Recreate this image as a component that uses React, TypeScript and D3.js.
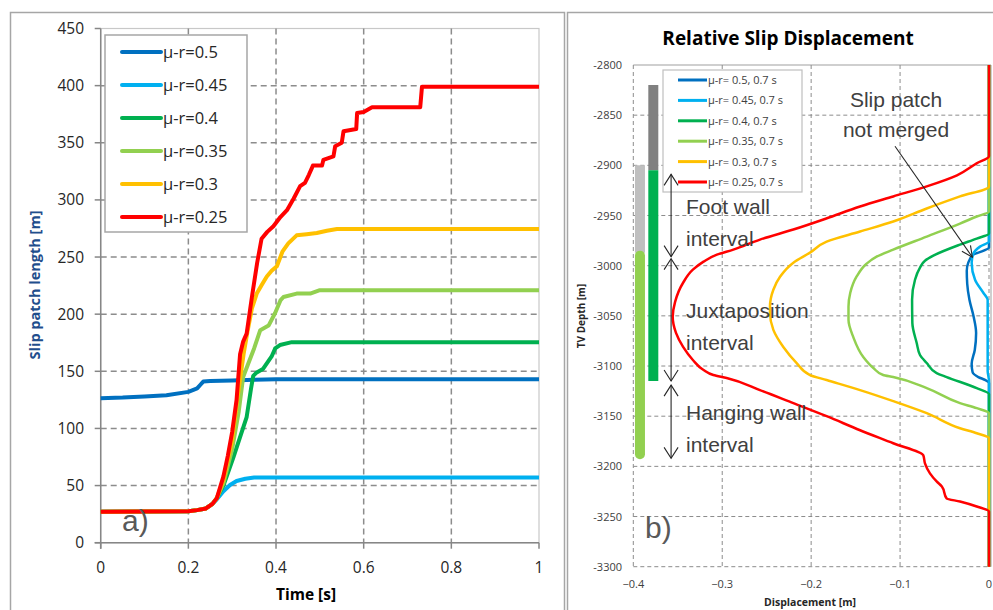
import React from "react";
import * as d3 from "d3";

type P = [number, number];

// ---------- Panel a data ----------
const timeTicks = [0, 0.2, 0.4, 0.6, 0.8, 1];
const lengthTicks = [0, 50, 100, 150, 200, 250, 300, 350, 400, 450];
const seriesNamesA = ["μ-r=0.5", "μ-r=0.45", "μ-r=0.4", "μ-r=0.35", "μ-r=0.3", "μ-r=0.25"];

const lenMu050: P[] = [[0, 126.5], [0.05, 127], [0.1, 128], [0.15, 129], [0.2, 132], [0.22, 135], [0.227, 138], [0.234, 141], [0.25, 141.5], [0.3, 142], [0.35, 142.5], [0.4, 143], [1, 143]];
const lenMu045: P[] = [[0, 27], [0.2, 27.5], [0.22, 28.5], [0.24, 30], [0.255, 34], [0.265, 38], [0.28, 45], [0.295, 50.5], [0.31, 54], [0.33, 56], [0.35, 57], [1, 57]];
const lenMu040: P[] = [[0, 27], [0.2, 27.5], [0.22, 28.5], [0.24, 30], [0.255, 34], [0.265, 39], [0.28, 50], [0.303, 75], [0.333, 110], [0.343, 135], [0.348, 146], [0.356, 149], [0.37, 152], [0.379, 157], [0.39, 163], [0.398, 170], [0.409, 173], [0.436, 175.5], [1, 175.5]];
const lenMu035: P[] = [[0, 27], [0.2, 27.5], [0.22, 28.5], [0.24, 30], [0.255, 34], [0.265, 39], [0.28, 52], [0.3, 82], [0.315, 115], [0.325, 145], [0.337, 157], [0.35, 170], [0.364, 186], [0.383, 190], [0.398, 201], [0.41, 212], [0.417, 215], [0.447, 218], [0.478, 218], [0.5, 221], [1, 221]];
const lenMu030: P[] = [[0, 27], [0.2, 27.5], [0.22, 28.5], [0.24, 30], [0.255, 34], [0.265, 39], [0.28, 55], [0.3, 90], [0.315, 135], [0.326, 165], [0.335, 185], [0.345, 205], [0.356, 218], [0.368, 226], [0.379, 233], [0.39, 238], [0.402, 242], [0.415, 255], [0.428, 262], [0.447, 269], [0.47, 270], [0.493, 271], [0.516, 273], [0.539, 274.5], [1, 274.5]];
const lenMu025: P[] = [[0, 27], [0.2, 27.5], [0.22, 28.5], [0.24, 30], [0.255, 34], [0.265, 39], [0.28, 58], [0.29, 76], [0.3, 97], [0.31, 125], [0.318, 165], [0.325, 176], [0.333, 183], [0.345, 215], [0.357, 245], [0.367, 266], [0.38, 272], [0.394, 277], [0.41, 285], [0.425, 291], [0.44, 301], [0.455, 312], [0.466, 315], [0.475, 322], [0.482, 328], [0.484, 330], [0.505, 330], [0.508, 335], [0.531, 338], [0.535, 347], [0.55, 350], [0.554, 360], [0.583, 362], [0.585, 376], [0.6, 377], [0.619, 381], [0.729, 381], [0.733, 399], [1, 399]];

// ---------- Panel b data ----------
const dispTicks = [-0.4, -0.3, -0.2, -0.1, 0];
const depthTicks = [-2800, -2850, -2900, -2950, -3000, -3050, -3100, -3150, -3200, -3250, -3300];
const seriesNamesB = ["μ-r= 0.5, 0.7 s", "μ-r= 0.45, 0.7 s", "μ-r= 0.4, 0.7 s", "μ-r= 0.35, 0.7 s", "μ-r= 0.3, 0.7 s", "μ-r= 0.25, 0.7 s"];

const slipMu050: P[] = [[0, -2800], [0, -2982], [-0.006, -2985], [-0.0176, -2989], [-0.0233, -2997], [-0.025, -3005], [-0.0245, -3018], [-0.022, -3034], [-0.0175, -3050], [-0.0145, -3067], [-0.016, -3084], [-0.0195, -3098], [-0.0185, -3106], [-0.012, -3111], [-0.004, -3114], [0, -3117], [0, -3300]];
const slipMu045: P[] = [[0, -2800], [0, -2976], [-0.0101, -2981], [-0.0176, -2988], [-0.0195, -2997], [-0.0157, -3014], [-0.0064, -3027], [-0.0015, -3034], [-0.0015, -3105], [0, -3115], [0, -3300]];
const slipMu040: P[] = [[0, -2800], [0, -2968], [-0.0138, -2973], [-0.0326, -2979], [-0.0626, -2990], [-0.072, -2995], [-0.0776, -3002], [-0.0832, -3014], [-0.0865, -3034], [-0.0862, -3057], [-0.0813, -3077], [-0.0776, -3089], [-0.07, -3097], [-0.0589, -3107], [-0.0476, -3111], [-0.0138, -3122], [0, -3128], [0, -3300]];
const slipMu035: P[] = [[0, -2800], [0, -2946], [-0.0138, -2951], [-0.0326, -2958], [-0.07, -2971], [-0.1077, -2984], [-0.1264, -2991], [-0.1377, -2998], [-0.149, -3011], [-0.156, -3027], [-0.158, -3041], [-0.158, -3054], [-0.1527, -3071], [-0.1414, -3091], [-0.13, -3102], [-0.119, -3109], [-0.1077, -3111], [-0.07, -3122], [-0.0326, -3137], [-0.0138, -3142], [0, -3147], [0, -3300]];
const slipMu030: P[] = [[0, -2800], [0, -2921], [-0.0326, -2931], [-0.07, -2943], [-0.1077, -2956], [-0.145, -2966], [-0.1826, -2976], [-0.2013, -2987], [-0.22, -2997], [-0.235, -3011], [-0.2425, -3024], [-0.2463, -3041], [-0.2463, -3047], [-0.2425, -3064], [-0.2313, -3081], [-0.2163, -3097], [-0.2013, -3109], [-0.1826, -3114], [-0.145, -3124], [-0.1077, -3135], [-0.07, -3147], [-0.0326, -3162], [-0.0138, -3167], [0, -3172], [0, -3300]];
const slipMu025: P[] = [[0, -2800], [0, -2891], [-0.0139, -2898], [-0.036, -2910], [-0.07, -2921], [-0.1077, -2931], [-0.145, -2941], [-0.183, -2953], [-0.22, -2964], [-0.2575, -2974], [-0.2875, -2984], [-0.306, -2989], [-0.321, -2996], [-0.333, -3004], [-0.344, -3017], [-0.353, -3036], [-0.3557, -3051], [-0.352, -3067], [-0.344, -3081], [-0.333, -3094], [-0.321, -3104], [-0.31, -3109], [-0.295, -3112], [-0.2576, -3124], [-0.22, -3137], [-0.1826, -3150], [-0.145, -3164], [-0.1077, -3177], [-0.0739, -3189], [-0.072, -3197], [-0.0664, -3207], [-0.0589, -3215], [-0.053, -3220], [-0.0476, -3232], [-0.0326, -3235], [-0.0138, -3240], [0, -3245], [0, -3300]];

// depth intervals of the wells: [displacement position, top, bottom]
const wellLightGrey: [number, number, number] = [-0.3925, -2900, -2987];
const wellLightGreen: [number, number, number] = [-0.3925, -2990, -3188];
const wellDarkGrey: [number, number, number] = [-0.3775, -2820, -2905];
const wellDarkGreen: [number, number, number] = [-0.3775, -2905, -3115];
// interval arrows: [position, top, bottom]
const intervalArrows: [number, number, number][] = [[-0.3575, -2909, -2991], [-0.3575, -2993, -3115], [-0.3575, -3119, -3192]];
const intervalLabels = [["Foot wall", "interval"], ["Juxtaposition", "interval"], ["Hanging wall", "interval"]];
const mergeArrow: [P, P] = [[-0.1057, -2881], [-0.0187, -2991.5]];

const colors = ["#0070C0", "#00B0F0", "#00B050", "#92D050", "#FFC000", "#FF0000"];
const seriesA = [lenMu050, lenMu045, lenMu040, lenMu035, lenMu030, lenMu025];
const seriesB = [slipMu050, slipMu045, slipMu040, slipMu035, slipMu030, slipMu025];

const TICK_FONT = "'Open Sans', sans-serif";
const ANN_FONT = "'Liberation Sans', Arial, sans-serif";

function vArrowHead(x: number, y: number, dir: number) {
  // dir = -1 tip up, +1 tip down
  return `M${x - 7},${y - dir * 11}L${x},${y}L${x + 7},${y - dir * 11}`;
}

export default function App() {
  const xA = d3.scaleLinear().domain([0, 1]).range([100.7, 539]);
  const yA = d3.scaleLinear().domain([0, 450]).range([542.7, 28.5]);
  const xB = d3.scaleLinear().domain([-0.4, 0]).range([633.3, 989]);
  const yB = d3.scaleLinear().domain([-3300, -2800]).range([566.7, 65]);

  const lineA = d3.line<P>().x((d) => xA(d[0])).y((d) => yA(d[1]));
  const lineB = d3.line<P>().x((d) => xB(d[0])).y((d) => yB(d[1])).curve(d3.curveMonotoneY);

  const fmtT = (v: number) => (v === 0 ? "0" : v === 1 ? "1" : d3.format(".1f")(v));
  const fmtD = (v: number) => (v === 0 ? "0" : d3.format(".1f")(v));

  // merge arrow geometry
  const mx0 = xB(mergeArrow[0][0]), my0 = yB(mergeArrow[0][1]);
  const mx1 = xB(mergeArrow[1][0]), my1 = yB(mergeArrow[1][1]);
  const ang = Math.atan2(my1 - my0, mx1 - mx0);
  const hl = 12, hw = 0.45;
  const head = `M${mx1 - hl * Math.cos(ang - hw)},${my1 - hl * Math.sin(ang - hw)}L${mx1},${my1}L${mx1 - hl * Math.cos(ang + hw)},${my1 - hl * Math.sin(ang + hw)}`;

  return (
    <svg width={993} height={610} style={{ position: "absolute", left: 0, top: 0, background: "#fff" }}>
      <rect x={0} y={0} width={993} height={610} fill="#fff" />
      {/* ================= Panel a ================= */}
      <rect x={10.5} y={12.5} width={554} height={640} fill="#fff" stroke="#a6a6a6" strokeWidth={1.5} />
      <rect x={xA(0)} y={yA(450)} width={xA(1) - xA(0)} height={yA(0) - yA(450)} fill="none" stroke="#c8c8c8" strokeWidth={1.2} />
      {lengthTicks.filter((v) => v > 0 && v < 450).map((v) => (
        <line key={"ha" + v} x1={xA(0)} x2={xA(1)} y1={yA(v)} y2={yA(v)} stroke="#8c8c8c" strokeWidth={1.5} strokeDasharray="6,4" />
      ))}
      {timeTicks.filter((v) => v > 0 && v < 1).map((v) => (
        <line key={"va" + v} x1={xA(v)} x2={xA(v)} y1={yA(450)} y2={yA(0)} stroke="#8c8c8c" strokeWidth={1.5} strokeDasharray="6,4" />
      ))}
      <line x1={xA(0)} x2={xA(0)} y1={yA(450)} y2={yA(0) + 6} stroke="#868686" strokeWidth={1.5} />
      <line x1={xA(0) - 6} x2={xA(1)} y1={yA(0)} y2={yA(0)} stroke="#868686" strokeWidth={1.5} />
      {lengthTicks.map((v) => (
        <g key={"ya" + v}>
          <line x1={xA(0) - 6} x2={xA(0)} y1={yA(v)} y2={yA(v)} stroke="#868686" strokeWidth={1.5} />
          <text x={84} y={yA(v) + 5.5} textAnchor="end" fontFamily={TICK_FONT} fontSize={15.5} fill="#262626">{v}</text>
        </g>
      ))}
      {timeTicks.map((v) => (
        <g key={"xa" + v}>
          <line x1={xA(v)} x2={xA(v)} y1={yA(0)} y2={yA(0) + 6} stroke="#868686" strokeWidth={1.5} />
          <text x={xA(v)} y={573} textAnchor="middle" fontFamily={TICK_FONT} fontSize={15.5} fill="#262626">{fmtT(v)}</text>
        </g>
      ))}
      <text x={306} y={600} textAnchor="middle" fontFamily={TICK_FONT} fontWeight="bold" fontSize={15.5} fill="#000">Time [s]</text>
      <text transform="translate(40,285) rotate(-90)" textAnchor="middle" fontFamily={TICK_FONT} fontWeight="bold" fontSize={14.5} fill="#1F4E8C">Slip patch length [m]</text>
      {seriesA.map((s, i) => (
        <path key={"sa" + i} d={lineA(s) || ""} fill="none" stroke={colors[i]} strokeWidth={4} strokeLinejoin="round" />
      ))}
      <rect x={105} y={35} width={142} height={197} fill="#fff" stroke="#a6a6a6" strokeWidth={1.5} />
      {seriesNamesA.map((n, i) => (
        <g key={"la" + i}>
          <line x1={122} x2={161} y1={52 + i * 33} y2={52 + i * 33} stroke={colors[i]} strokeWidth={4} strokeLinecap="round" />
          <text x={163} y={52 + i * 33 + 5.5} fontFamily={TICK_FONT} fontSize={16.5} fill="#262626">{n}</text>
        </g>
      ))}
      <text x={122} y={531} fontFamily={ANN_FONT} fontSize={30} fill="#595959">a)</text>

      {/* ================= Panel b ================= */}
      <rect x={567.5} y={12.5} width={500} height={640} fill="#fff" stroke="#a6a6a6" strokeWidth={1.5} />
      <text x={788} y={45} textAnchor="middle" fontFamily={TICK_FONT} fontWeight="bold" fontSize={19} fill="#000">Relative Slip Displacement</text>
      <line x1={xB(-0.4)} x2={xB(0) + 2} y1={yB(-2800)} y2={yB(-2800)} stroke="#bfbfbf" strokeWidth={1.5} />
      <line x1={xB(0) + 2} x2={xB(0) + 2} y1={yB(-2800)} y2={yB(-3300)} stroke="#bfbfbf" strokeWidth={1.5} />
      {depthTicks.filter((v) => v !== -2800).map((v) => (
        <line key={"hb" + v} x1={xB(-0.4)} x2={xB(0)} y1={yB(v)} y2={yB(v)} stroke="#8c8c8c" strokeWidth={1} strokeDasharray="4,3" />
      ))}
      {dispTicks.map((v) => (
        <line key={"vb" + v} x1={xB(v)} x2={xB(v)} y1={yB(-2800)} y2={yB(-3300)} stroke="#8c8c8c" strokeWidth={1} strokeDasharray="4,3" />
      ))}
      {depthTicks.map((v) => (
        <text key={"yb" + v} x={622} y={yB(v) + 4} textAnchor="end" fontFamily={TICK_FONT} fontSize={11} fill="#404040">{v}</text>
      ))}
      {dispTicks.map((v) => (
        <text key={"xb" + v} x={xB(v)} y={588} textAnchor="middle" fontFamily={TICK_FONT} fontSize={11} fill="#404040">{fmtD(v)}</text>
      ))}
      <text x={810} y={606} textAnchor="middle" fontFamily={TICK_FONT} fontWeight="bold" fontSize={10.5} fill="#262626">Displacement [m]</text>
      <text transform="translate(585,316) rotate(-90)" textAnchor="middle" fontFamily={TICK_FONT} fontWeight="bold" fontSize={10} fill="#262626">TV Depth [m]</text>

      {/* wells */}
      <line x1={xB(wellLightGrey[0])} x2={xB(wellLightGrey[0])} y1={yB(wellLightGrey[1])} y2={yB(wellLightGrey[2])} stroke="#bfbfbf" strokeWidth={10} />
      <line x1={xB(wellLightGreen[0])} x2={xB(wellLightGreen[0])} y1={yB(wellLightGreen[1])} y2={yB(wellLightGreen[2])} stroke="#92D050" strokeWidth={10} strokeLinecap="round" />
      <line x1={xB(wellDarkGrey[0])} x2={xB(wellDarkGrey[0])} y1={yB(wellDarkGrey[1])} y2={yB(wellDarkGrey[2])} stroke="#808080" strokeWidth={10} />
      <line x1={xB(wellDarkGreen[0])} x2={xB(wellDarkGreen[0])} y1={yB(wellDarkGreen[1])} y2={yB(wellDarkGreen[2])} stroke="#00B050" strokeWidth={10} />

      {seriesB.map((s, i) => (
        <path key={"sb" + i} d={lineB(s) || ""} fill="none" stroke={colors[i]} strokeWidth={2.5} strokeLinejoin="round" />
      ))}

      {/* legend b */}
      <rect x={663} y={70} width={139} height={122} fill="#fff" stroke="#bfbfbf" strokeWidth={1.2} />
      {seriesNamesB.map((n, i) => (
        <g key={"lb" + i}>
          <line x1={678} x2={707} y1={80 + i * 20.4} y2={80 + i * 20.4} stroke={colors[i]} strokeWidth={3} />
          <text x={708} y={80 + i * 20.4 + 4} fontFamily={TICK_FONT} fontSize={11} fill="#404040">{n}</text>
        </g>
      ))}

      {/* interval arrows */}
      {intervalArrows.map((a, i) => {
        const x = xB(a[0]);
        const y1 = yB(a[1]);
        const y2 = yB(a[2]);
        return (
          <g key={"ia" + i} fill="none" stroke="#262626" strokeWidth={1.1}>
            <line x1={x} x2={x} y1={y1} y2={y2} />
            <path d={vArrowHead(x, y1, -1)} />
            <path d={vArrowHead(x, y2, 1)} />
          </g>
        );
      })}
      {intervalLabels.map((lab, i) => {
        const mid = (intervalArrows[i][1] + intervalArrows[i][2]) / 2;
        const y = yB(mid);
        return (
          <g key={"il" + i} fontFamily={ANN_FONT} fontSize={21} fill="#404040">
            <text x={686} y={y - 2}>{lab[0]}</text>
            <text x={686} y={y + 30}>{lab[1]}</text>
          </g>
        );
      })}
      <text x={896} y={107} textAnchor="middle" fontFamily={ANN_FONT} fontSize={21} fill="#404040">Slip patch</text>
      <text x={896} y={137} textAnchor="middle" fontFamily={ANN_FONT} fontSize={21} fill="#404040">not merged</text>
      <line x1={mx0} y1={my0} x2={mx1} y2={my1} stroke="#262626" strokeWidth={1.1} />
      <path d={head} fill="none" stroke="#262626" strokeWidth={1.1} />
      <text x={645} y={538} fontFamily={ANN_FONT} fontSize={30} fill="#595959">b)</text>
    </svg>
  );
}
